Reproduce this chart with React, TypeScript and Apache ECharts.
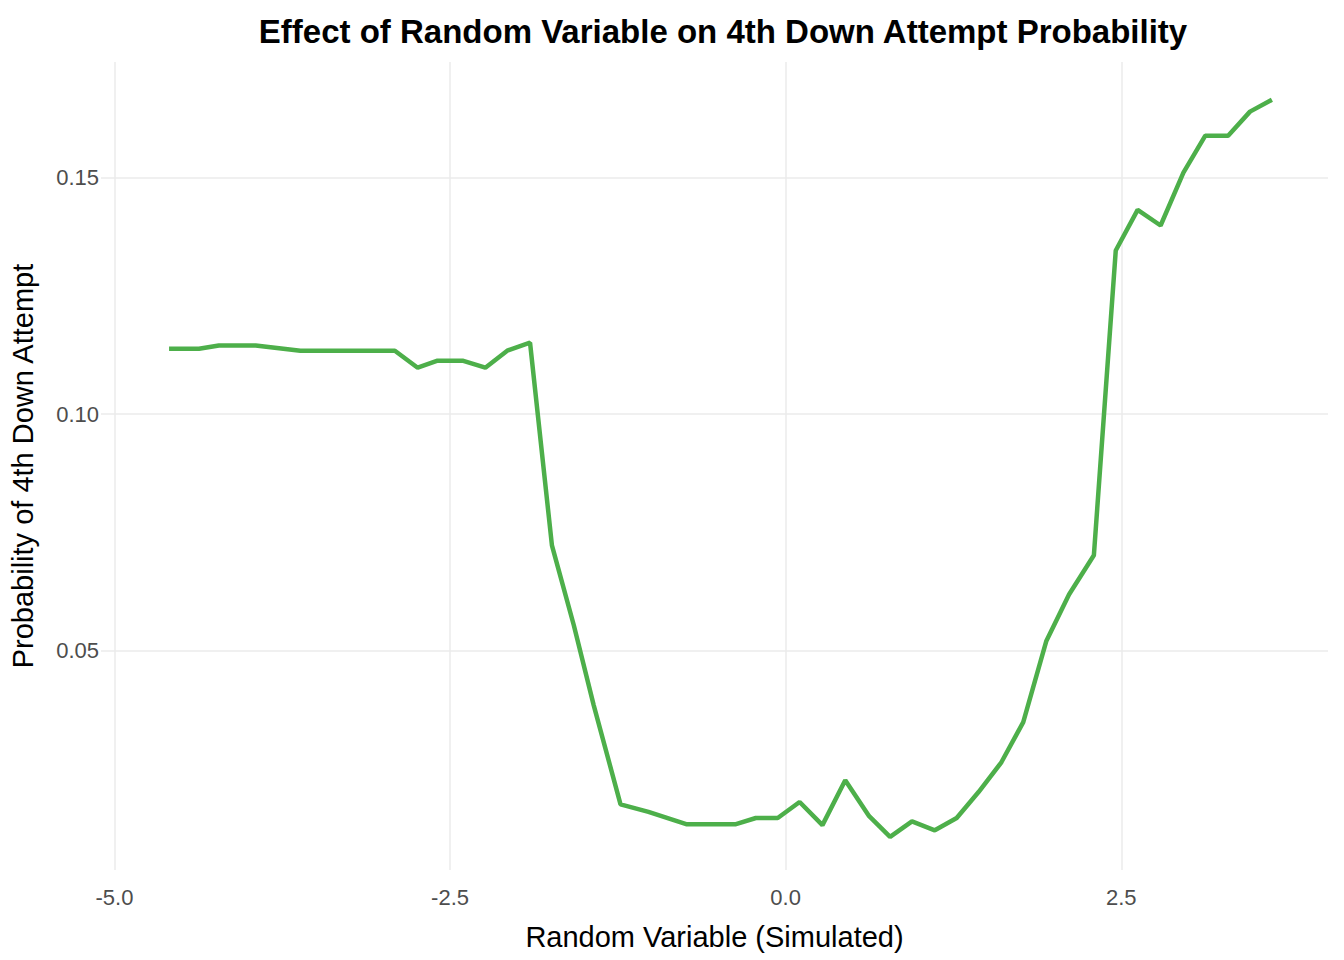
import React, { useEffect, useRef } from 'react';
import * as echarts from 'echarts';

const xValues = [
  -4.593, -4.37, -4.222, -3.948, -3.615, -3.281, -2.911, -2.741, -2.593, -2.407,
  -2.237, -2.074, -1.904, -1.741, -1.578, -1.43, -1.23, -1.022, -0.741, -0.37,
  -0.222, -0.059, 0.104, 0.274, 0.444, 0.622, 0.778, 0.941, 1.111, 1.274,
  1.437, 1.607, 1.77, 1.941, 2.111, 2.296, 2.459, 2.622, 2.793, 2.963,
  3.126, 3.296, 3.459, 3.622,
];
const probValues = [
  0.1138, 0.1138, 0.1145, 0.1145, 0.1134, 0.1134, 0.1134, 0.1098, 0.1113, 0.1113,
  0.1098, 0.1134, 0.1151, 0.0722, 0.0553, 0.0384, 0.0174, 0.0158, 0.0132, 0.0132,
  0.0145, 0.0145, 0.0179, 0.013, 0.0225, 0.0149, 0.0105, 0.0138, 0.0119, 0.0145,
  0.02, 0.0263, 0.0348, 0.0519, 0.0618, 0.0701, 0.1346, 0.1432, 0.1399, 0.1511,
  0.1589, 0.1589, 0.164, 0.1665,
];
const xTicks = [-5, -2.5, 0, 2.5];
const yTicks = [0.05, 0.1, 0.15];

const App: React.FC = () => {
  const chartRef = useRef<HTMLDivElement>(null);

  useEffect(() => {
    if (!chartRef.current) return;
    const chart = echarts.init(chartRef.current, null, { renderer: 'svg' });
    const font = 'Liberation Sans, Arial, sans-serif';
    chart.setOption({
      animation: false,
      textStyle: { fontFamily: font },
      title: {
        text: 'Effect of Random Variable on 4th Down Attempt Probability',
        left: 718,
        textAlign: 'center',
        top: 10,
        textStyle: { fontSize: 33, fontWeight: 'bold', color: '#000', fontFamily: font },
      },
      grid: { left: 94, right: 16, top: 62, bottom: 90 },
      xAxis: {
        type: 'value',
        min: -5.1,
        max: 4.04,
        name: 'Random Variable (Simulated)',
        nameLocation: 'middle',
        nameGap: 52,
        nameTextStyle: { fontSize: 29, color: '#000' },
        axisLine: { show: false },
        axisTick: { show: false, customValues: xTicks },
        axisLabel: {
          customValues: xTicks,
          formatter: (v: number) => v.toFixed(1),
          fontSize: 22,
          color: '#4d4d4d',
          margin: 16,
        },
        splitLine: { show: true, lineStyle: { color: '#ebebeb', width: 1.5 } },
      },
      yAxis: {
        type: 'value',
        min: 0.0035,
        max: 0.1745,
        name: 'Probability of 4th Down Attempt',
        nameLocation: 'middle',
        nameGap: 64,
        nameTextStyle: { fontSize: 29, color: '#000' },
        axisLine: { show: false },
        axisTick: { show: false, customValues: yTicks },
        axisLabel: {
          customValues: yTicks,
          formatter: (v: number) => v.toFixed(2),
          fontSize: 22,
          color: '#4d4d4d',
          margin: 2,
        },
        splitLine: { show: true, lineStyle: { color: '#ebebeb', width: 1.5 } },
      },
      series: [
        {
          type: 'line',
          data: xValues.map((x, i) => [x, probValues[i]]),
          showSymbol: false,
          lineStyle: { color: '#4daf4a', width: 4.5 },
        },
      ],
    });
    return () => chart.dispose();
  }, []);

  return (
    <div
      ref={chartRef}
      style={{ position: 'absolute', left: 0, top: 0, width: 1344, height: 960, background: '#fff' }}
    />
  );
};

export default App;
